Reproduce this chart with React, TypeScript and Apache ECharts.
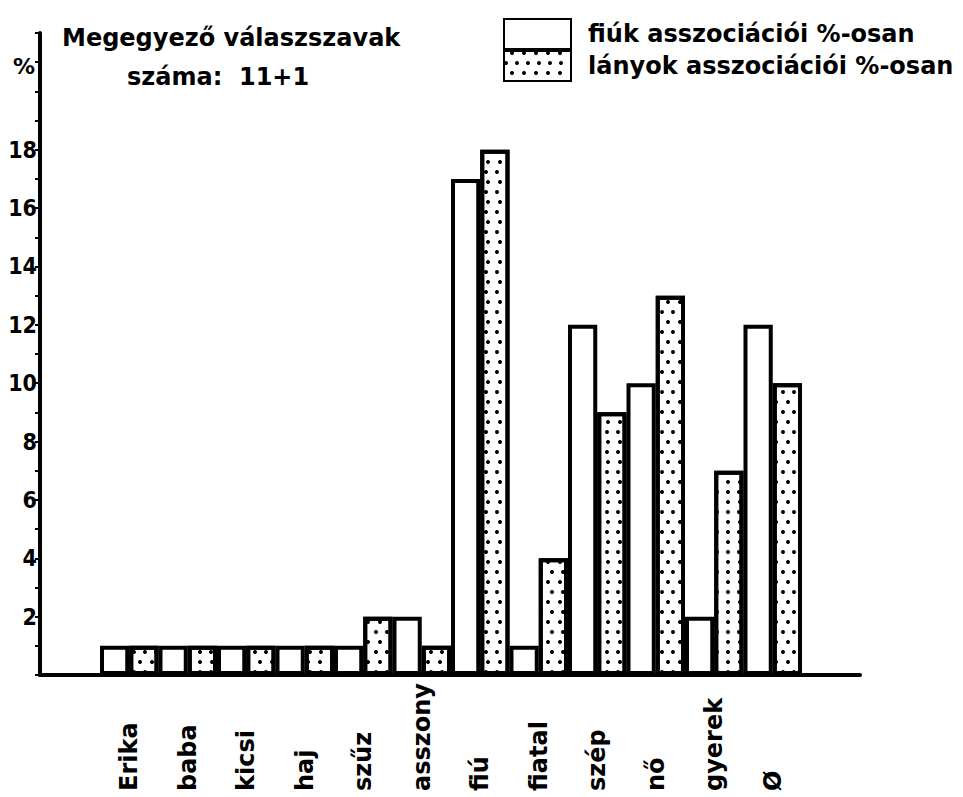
import React, { useEffect, useRef } from "react";
import * as echarts from "echarts";

const categories = ["Erika", "baba", "kicsi", "haj", "szűz", "asszony", "fiú", "fiatal", "szép", "nő", "gyerek", "Ø"];
const boysValues = [1, 1, 1, 1, 1, 2, 17, 1, 12, 10, 2, 12];
const girlsValues = [1, 1, 1, 1, 2, 1, 18, 4, 9, 13, 7, 10];
const yTickLabels = [2, 4, 6, 8, 10, 12, 14, 16, 18];
const boysName = "fiúk asszociációi %-osan";
const girlsName = "lányok asszociációi %-osan";
const titleLine1 = "Megegyező válaszszavak";
const titleLine2 = "száma:  11+1";

const FONT = "'DejaVu Sans', sans-serif";

export default function App() {
  const ref = useRef<HTMLDivElement>(null);
  useEffect(() => {
    if (!ref.current) return;
    const chart = echarts.init(ref.current, null, { renderer: "svg" });
    const dotDecal = {
      symbol: "circle",
      symbolSize: 1,
      color: "#000",
      dashArrayX: [[4, 7], [0, 5.5, 4, 1.5]],
      dashArrayY: [4, 6],
      rotation: 0,
    };
    const option: any = {
      animation: false,
      backgroundColor: "#fff",
      textStyle: { fontFamily: FONT, fontWeight: "bold", color: "#000" },
      legend: {
        orient: "vertical",
        left: 503,
        top: 18,
        itemWidth: 67,
        itemHeight: 30,
        itemGap: 0,
        icon: "rect",
        padding: 0,
        textStyle: { fontFamily: FONT, fontWeight: "bold", fontSize: 24, color: "#000", padding: [0, 0, 0, 12], lineHeight: 30 },
        data: [boysName, girlsName],
      },
      graphic: [
        { type: "text", left: 62, top: 26, style: { text: titleLine1, font: `bold 24px ${FONT}`, fill: "#000" } },
        { type: "text", left: 127, top: 65, style: { text: titleLine2, font: `bold 24px ${FONT}`, fill: "#000" } },
        { type: "text", left: 13, top: 55, style: { text: "%", font: `bold 22px ${FONT}`, fill: "#000" } },
      ],
      grid: [
        { left: 100, right: 161, top: 33, bottom: 122 },
        { left: 40, right: 103, top: 33, bottom: 122 },
      ],
      xAxis: [
        {
          type: "category",
          gridIndex: 0,
          data: categories,
          axisLine: { show: false },
          axisTick: { show: false },
          axisLabel: {
            interval: 0,
            rotate: 90,
            align: "left",
            verticalAlign: "middle",
            margin: 116,
            fontSize: 24,
            fontWeight: "bold",
            fontFamily: FONT,
            color: "#000",
          },
        },
        {
          type: "value",
          gridIndex: 1,
          min: 0,
          max: 1,
          axisLine: { show: true, onZero: false, lineStyle: { color: "#000", width: 4 } },
          axisTick: { show: false },
          axisLabel: { show: false },
          splitLine: { show: false },
        },
      ],
      yAxis: [
        {
          type: "value",
          gridIndex: 0,
          min: 0,
          max: 22,
          interval: 1,
          offset: 60,
          axisLine: { show: true, lineStyle: { color: "#000", width: 4 } },
          axisTick: { show: true, length: 5, lineStyle: { color: "#000", width: 2 } },
          axisLabel: {
            margin: 3,
            fontSize: 23,
            fontWeight: "bold",
            fontFamily: "'DejaVu Sans Condensed', 'DejaVu Sans'",
            color: "#000",
            formatter: (v: number) => (yTickLabels.indexOf(v) >= 0 ? String(v) : ""),
          },
          splitLine: { show: false },
        },
        { type: "value", gridIndex: 1, show: false },
      ],
      series: [
        {
          name: boysName,
          type: "bar",
          xAxisIndex: 0,
          yAxisIndex: 0,
          data: boysValues,
          barGap: "0%",
          barCategoryGap: "0%",
          itemStyle: { color: "#fff", borderColor: "#000", borderWidth: 4, decal: "none" },
        },
        {
          name: girlsName,
          type: "bar",
          xAxisIndex: 0,
          yAxisIndex: 0,
          data: girlsValues,
          barGap: "0%",
          barCategoryGap: "0%",
          itemStyle: { color: "#fff", borderColor: "#000", borderWidth: 4, decal: dotDecal },
        },
      ],
    };
    chart.setOption(option);
    return () => chart.dispose();
  }, []);
  return (
    <div
      ref={ref}
      style={{ position: "absolute", left: 0, top: 0, width: 963, height: 797, background: "#fff" }}
    />
  );
}
